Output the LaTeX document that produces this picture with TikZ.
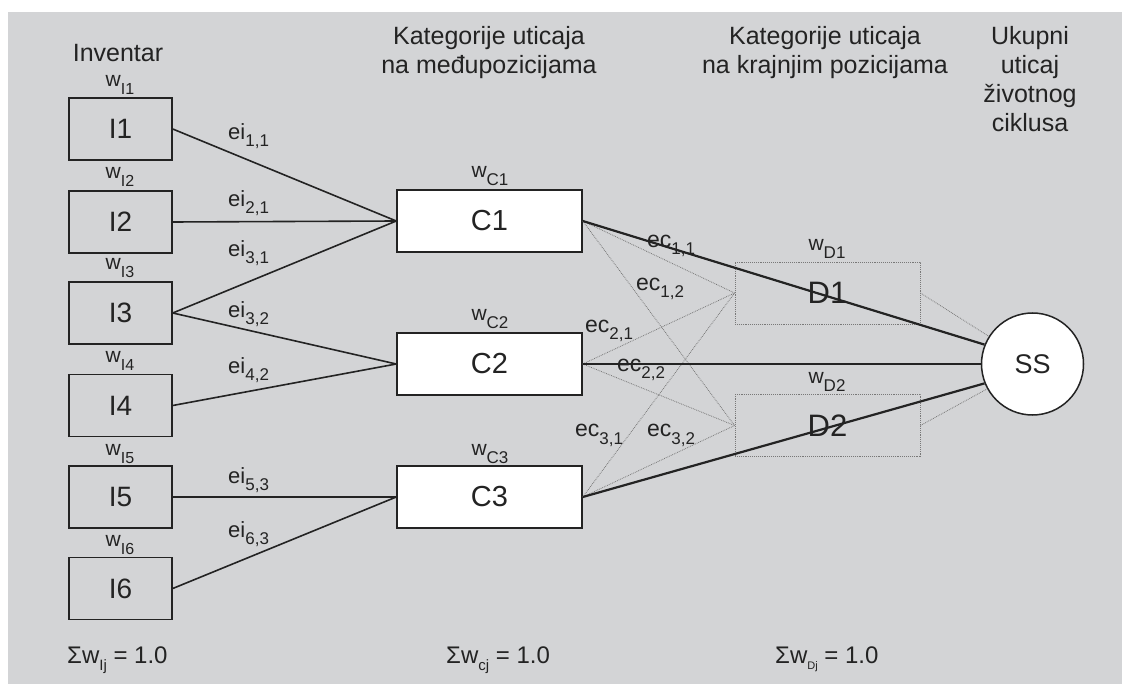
\documentclass[tikz,border=0pt]{standalone}
\usepackage{fontspec}
\setmainfont{Liberation Sans}
\definecolor{bg}{RGB}{211,212,214}
\definecolor{ink}{RGB}{35,35,35}
\definecolor{dotc}{RGB}{120,120,120}
\newcommand\sbx[3]{\raisebox{-#2pt}{\fontsize{#1}{#1}\selectfont #3}}
\begin{document}
\begin{tikzpicture}[x=1pt,y=-1pt,
  ibox/.style={draw=ink, line width=1.5pt, minimum width=103pt, minimum height=62pt, inner sep=0pt, text=ink, font=\fontsize{28}{28}\selectfont},
  cbox/.style={ibox, fill=white, minimum width=185pt, font=\fontsize{29}{29}\selectfont},
  dbox/.style={draw=dotc, densely dotted, line width=0.9pt, minimum width=185pt, minimum height=62pt, inner sep=0pt, text=ink, font=\fontsize{31}{31}\selectfont},
  ssnode/.style={circle, draw=ink, fill=white, line width=1.5pt, minimum size=102pt, inner sep=0pt, text=ink, font=\fontsize{27}{27}\selectfont},
  hdr/.style={anchor=base, text=ink, inner sep=0pt, font=\fontsize{25}{29}\selectfont},
  wlab/.style={anchor=base, text=ink, inner sep=0pt, font=\fontsize{21}{21}\selectfont},
  eilab/.style={anchor=base west, text=ink, inner sep=0pt, font=\fontsize{22}{22}\selectfont},
  eclab/.style={anchor=base west, text=ink, inner sep=0pt, font=\fontsize{23}{23}\selectfont},
  sumlab/.style={anchor=base west, text=ink, inner sep=0pt, font=\fontsize{24}{24}\selectfont},
  ilink/.style={draw=ink, line width=1.6pt},
  clink/.style={draw=ink, line width=2.2pt},
  dlink/.style={draw=dotc, densely dotted, line width=0.8pt}
]
\useasboundingbox (0,0) rectangle (1122,684);
\fill[bg] (8,12) rectangle (1122,684);

% headers
\node[hdr] (h1) at (118,62) {Inventar};
\node[hdr] (h2a) at (489,45) {Kategorije uticaja};
\node[hdr] (h2b) at (489,74) {na međupozicijama};
\node[hdr] (h3a) at (825,45) {Kategorije uticaja};
\node[hdr] (h3b) at (825,74) {na krajnjim pozicijama};
\node[hdr] (h4a) at (1030,45) {Ukupni};
\node[hdr] (h4b) at (1030,74) {uticaj};
\node[hdr] (h4c) at (1030,103) {životnog};
\node[hdr] (h4d) at (1030,132) {ciklusa};

% inventory boxes
\node[ibox] (I1) at (120.5,129) {I1};
\node[ibox] (I2) at (120.5,222) {I2};
\node[ibox] (I3) at (120.5,313) {I3};
\node[ibox] (I4) at (120.5,405.5) {I4};
\node[ibox] (I5) at (120.5,497) {I5};
\node[ibox] (I6) at (120.5,588.5) {I6};

\node[wlab] (wI1) at (120,87) {w\sbx{16}{8}{I1}};
\node[wlab] (wI2) at (120,179) {w\sbx{16}{8}{I2}};
\node[wlab] (wI3) at (120,270) {w\sbx{16}{8}{I3}};
\node[wlab] (wI4) at (120,363) {w\sbx{16}{8}{I4}};
\node[wlab] (wI5) at (120,455) {w\sbx{16}{8}{I5}};
\node[wlab] (wI6) at (120,546) {w\sbx{16}{8}{I6}};

% C boxes
\node[cbox] (C1) at (489.5,221) {C1};
\node[cbox] (C2) at (489.5,364) {C2};
\node[cbox] (C3) at (489.5,497) {C3};
\node[wlab] (wC1) at (490,178) {w\sbx{17}{8}{C1}};
\node[wlab] (wC2) at (490,321) {w\sbx{17}{8}{C2}};
\node[wlab] (wC3) at (490,455) {w\sbx{17}{8}{C3}};

% D boxes
\node[dbox] (D1) at (827.5,293) {D1};
\node[dbox] (D2) at (827.5,425.5) {D2};
\node[wlab] (wD1) at (827,251) {w\sbx{17}{8}{D1}};
\node[wlab] (wD2) at (827,384) {w\sbx{17}{8}{D2}};

% SS
\node[ssnode] (SS) at (1032.5,364) {SS};

% I -> C links
\draw[ilink] (I1.east) -- (C1.west);
\draw[ilink] (I2.east) -- (C1.west);
\draw[ilink] (I3.east) -- (C1.west);
\draw[ilink] (I3.east) -- (C2.west);
\draw[ilink] (I4.east) -- (C2.west);
\draw[ilink] (I5.east) -- (C3.west);
\draw[ilink] (I6.east) -- (C3.west);

\node[eilab] (e11) at (228,140) {ei\sbx{17}{7}{1,1}};
\node[eilab] (e21) at (228,207) {ei\sbx{17}{7}{2,1}};
\node[eilab] (e31) at (228,257) {ei\sbx{17}{7}{3,1}};
\node[eilab] (e32) at (228,318) {ei\sbx{17}{7}{3,2}};
\node[eilab] (e42) at (228,374) {ei\sbx{17}{7}{4,2}};
\node[eilab] (e53) at (228,483) {ei\sbx{17}{7}{5,3}};
\node[eilab] (e63) at (228,537) {ei\sbx{17}{7}{6,3}};

% C -> D dotted links
\foreach \c in {C1,C2,C3}{
  \draw[dlink] (\c.east) -- (D1.west);
  \draw[dlink] (\c.east) -- (D2.west);
}
\draw[dlink] (D1.east) -- (SS);
\draw[dlink] (D2.east) -- (SS);

% C -> SS solid links
\draw[clink] (C1.east) -- (SS.158);
\draw[clink] (C2.east) -- (SS.west);
\draw[clink] (C3.east) -- (SS.202);

\node[eclab] (c11) at (647,248) {ec\sbx{17}{7}{1,1}};
\node[eclab] (c12) at (636,291) {ec\sbx{17}{7}{1,2}};
\node[eclab] (c21) at (585,333) {ec\sbx{17}{7}{2,1}};
\node[eclab] (c22) at (617,372) {ec\sbx{17}{7}{2,2}};
\node[eclab] (c31) at (575,437) {ec\sbx{17}{7}{3,1}};
\node[eclab] (c32) at (647,437) {ec\sbx{17}{7}{3,2}};

% sums
\node[sumlab] (s1) at (67,663) {Σw\sbx{15}{7}{Ij} = 1.0};
\node[sumlab] (s2) at (446,663) {Σw\sbx{15}{7}{cj} = 1.0};
\node[sumlab] (s3) at (775,663) {Σw\sbx{11}{6}{Dj} = 1.0};
\end{tikzpicture}
\end{document}
